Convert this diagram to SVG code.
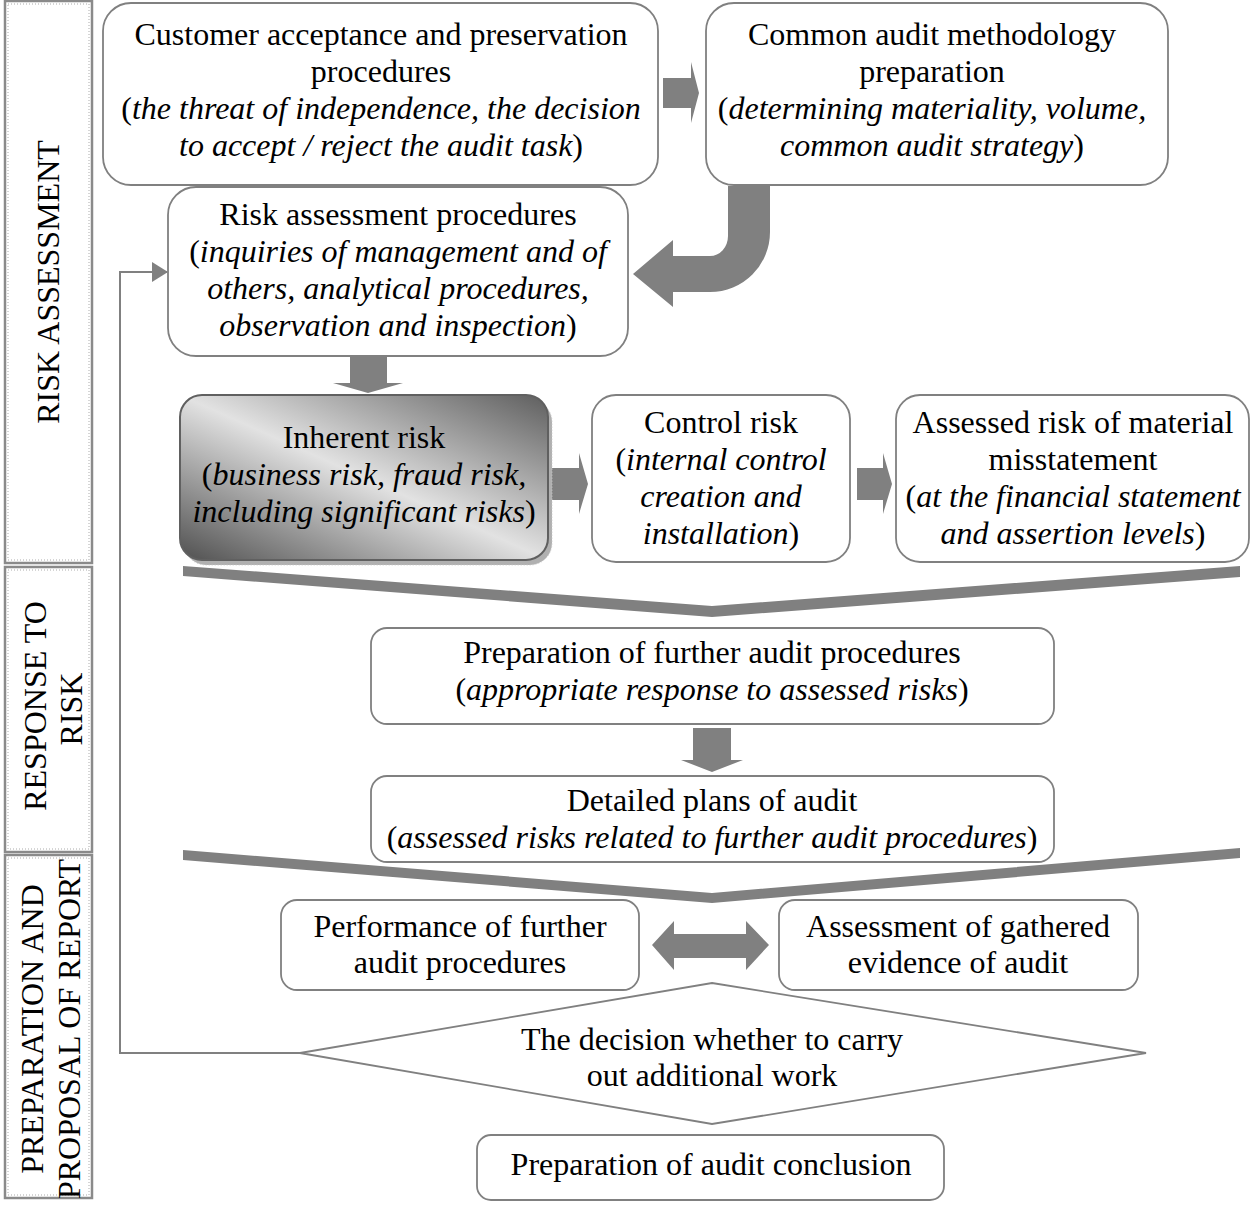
<svg xmlns="http://www.w3.org/2000/svg" width="1250" height="1208" viewBox="0 0 1250 1208">
<style>
text{font-family:"Liberation Serif","Times New Roman",serif;font-size:32px;fill:#000;text-anchor:middle}
.i{font-style:italic}
.box{fill:#fff;stroke:#808080;stroke-width:1.8}
.bar{fill:#fff;stroke:#8a8a8a;stroke-width:2.5}
.barin{fill:none;stroke:#c8c8c8;stroke-width:1.5;stroke-dasharray:1 2}
.ar{fill:#808080;stroke:none}
.ln{fill:none;stroke:#808080;stroke-width:2}
</style>
<defs>
<linearGradient id="g" x1="0" y1="1" x2="1" y2="0">
<stop offset="0" stop-color="#505050"/>
<stop offset="0.5" stop-color="#e2e2e2"/>
<stop offset="1" stop-color="#5e5e5e"/>
</linearGradient>
<marker id="ah" markerWidth="16" markerHeight="20" refX="15" refY="10" orient="auto" markerUnits="userSpaceOnUse">
<path d="M0,0 L16,10 L0,20 Z" fill="#808080"/>
</marker>
</defs>

<g id="phase-risk-assessment">
<rect class="bar" x="5" y="1" width="87" height="562"/>
<rect class="barin" x="8" y="4" width="81" height="556"/>
<text transform="translate(59,282) rotate(-90)">RISK ASSESSMENT</text>
</g>
<g id="phase-response">
<rect class="bar" x="5" y="567" width="87" height="285"/>
<rect class="barin" x="8" y="570" width="81" height="279"/>
<text transform="translate(46,706) rotate(-90)">RESPONSE TO</text>
<text transform="translate(82,709) rotate(-90)">RISK</text>
</g>
<g id="phase-report">
<rect class="bar" x="5" y="855" width="87" height="343"/>
<rect class="barin" x="8" y="858" width="81" height="337"/>
<text transform="translate(43,1029) rotate(-90)">PREPARATION AND</text>
<text transform="translate(80,1029) rotate(-90)">PROPOSAL OF REPORT</text>
</g>

<g id="connectors">
<path class="ar" d="M663,78 H691 V62 L699,93 L691,123 V108 H663 Z"/>
<path class="ar" d="M728,186 H770 V232 A60,60 0 0 1 710,292 H673 V307 L633,274 L673,240 V256 H710 A18,20 0 0 0 728,236 Z"/>
<path class="ar" d="M350,357 H387 V383 H403 L368,393 L333,383 H350 Z"/>
<path class="ar" d="M552,468 H579 V453 L588,484 L579,514 V500 H552 Z"/>
<path class="ar" d="M857,468 H883 V453 L892,484 L883,514 V500 H857 Z"/>
<path class="ar" d="M183,566 L712,606 L1240,566 L1240,577 L712,617 L183,576 Z"/>
<path class="ar" d="M693,728 H731 V760 H743 L712,772 L681,760 H693 Z"/>
<path class="ar" d="M183,850 L712,893 L1240,848 L1240,858 L712,903 L183,860 Z"/>
<path class="ar" d="M652,945 L674,921 V934 H746 V921 L769,945 L746,970 V958 H674 V970 Z"/>
<polyline class="ln" points="300,1053 120,1053 120,272 167,272" marker-end="url(#ah)"/>
</g>

<g id="customer-acceptance">
<rect class="box" x="103" y="3" width="555" height="182" rx="28"/>
<text x="381" y="45">Customer acceptance and preservation</text>
<text x="381" y="82">procedures</text>
<text x="381" y="119">(<tspan class="i">the threat of independence, the decision</tspan></text>
<text x="381" y="156"><tspan class="i">to accept / reject the audit task</tspan>)</text>
</g>
<g id="common-methodology">
<rect class="box" x="706" y="3" width="462" height="182" rx="28"/>
<text x="932" y="45">Common audit methodology</text>
<text x="932" y="82">preparation</text>
<text x="932" y="119">(<tspan class="i">determining materiality, volume,</tspan></text>
<text x="932" y="156"><tspan class="i">common audit strategy</tspan>)</text>
</g>
<g id="risk-assessment-procedures">
<rect class="box" x="168" y="187" width="460" height="169" rx="28"/>
<text x="398" y="225">Risk assessment procedures</text>
<text x="398" y="262">(<tspan class="i">inquiries of management and of</tspan></text>
<text x="398" y="299"><tspan class="i">others, analytical procedures,</tspan></text>
<text x="398" y="336"><tspan class="i">observation and inspection</tspan>)</text>
</g>
<g id="inherent-risk">
<rect x="184" y="400" width="368" height="165" rx="22" fill="#b0b0b0" stroke="#c8c8c8" stroke-width="1" stroke-dasharray="1 2"/>
<rect x="180" y="395" width="368" height="165" rx="22" fill="url(#g)" stroke="#606060" stroke-width="2"/>
<text x="364" y="448">Inherent risk</text>
<text x="364" y="485">(<tspan class="i">business risk, fraud risk,</tspan></text>
<text x="364" y="522"><tspan class="i">including significant risks</tspan>)</text>
</g>
<g id="control-risk">
<rect class="box" x="592" y="395" width="258" height="167" rx="24"/>
<text x="721" y="433">Control risk</text>
<text x="721" y="470">(<tspan class="i">internal control</tspan></text>
<text x="721" y="507"><tspan class="i">creation and</tspan></text>
<text x="721" y="544"><tspan class="i">installation</tspan>)</text>
</g>
<g id="assessed-risk">
<rect class="box" x="896" y="395" width="353" height="167" rx="24"/>
<text x="1073" y="433">Assessed risk of material</text>
<text x="1073" y="470">misstatement</text>
<text x="1073" y="507">(<tspan class="i">at the financial statement</tspan></text>
<text x="1073" y="544"><tspan class="i">and assertion levels</tspan>)</text>
</g>
<g id="further-procedures">
<rect class="box" x="371" y="628" width="683" height="96" rx="16"/>
<text x="712" y="663">Preparation of further audit procedures</text>
<text x="712" y="700">(<tspan class="i">appropriate response to assessed risks</tspan>)</text>
</g>
<g id="detailed-plans">
<rect class="box" x="371" y="776" width="683" height="86" rx="16"/>
<text x="712" y="811">Detailed plans of audit</text>
<text x="712" y="848">(<tspan class="i">assessed risks related to further audit procedures</tspan>)</text>
</g>
<g id="performance">
<rect class="box" x="281" y="900" width="358" height="90" rx="16"/>
<text x="460" y="937">Performance of further</text>
<text x="460" y="973">audit procedures</text>
</g>
<g id="assessment-evidence">
<rect class="box" x="779" y="900" width="359" height="90" rx="16"/>
<text x="958" y="937">Assessment of gathered</text>
<text x="958" y="973">evidence of audit</text>
</g>
<g id="decision">
<polygon class="box" points="712,983 1146,1053 712,1124 300,1053"/>
<text x="712" y="1050">The decision whether to carry</text>
<text x="712" y="1086">out additional work</text>
</g>
<g id="conclusion">
<rect class="box" x="477" y="1135" width="467" height="65" rx="14"/>
<text x="711" y="1175">Preparation of audit conclusion</text>
</g>
</svg>
